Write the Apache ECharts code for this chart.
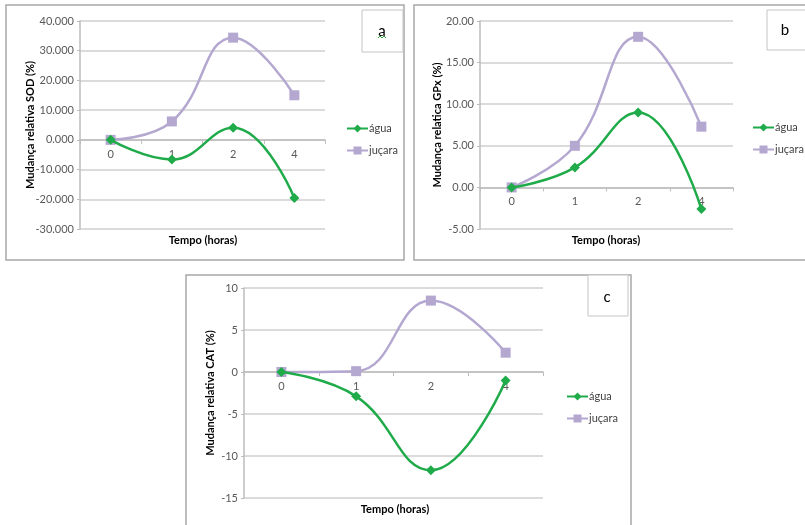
<!DOCTYPE html>
<html><head><meta charset="utf-8">
<script src="https://cdn.jsdelivr.net/npm/echarts@6/dist/echarts.min.js"></script>
<style>html,body{margin:0;padding:0;background:#fff}#c{width:805px;height:525px}</style>
</head><body><div id="c"></div>
<script>
const categories = ['0', '1', '2', '4'];
const sodAgua = [0, -6.6, 4.1, -19.6];
const sodJucara = [0, 6.2, 34.4, 15.0];
const gpxAgua = [0, 2.4, 9.0, -2.6];
const gpxJucara = [0, 5.0, 18.1, 7.3];
const catAgua = [0, -2.9, -11.7, -1.0];
const catJucara = [0, 0.1, 8.5, 2.3];
const seriesNames = ['água', 'juçara'];
const yTitles = ['Mudança relativa SOD (%)', 'Mudança relatica GPx (%)', 'Mudança relativa CAT (%)'];
const xTitle = 'Tempo (horas)';
const panelLetters = ['a', 'b', 'c'];

const FONT = 'Lato, "Open Sans", sans-serif';
const GREEN = '#1fab4a';
const PURPLE = '#b4a7d0';
const GRIDC = '#cfcfcf';

const grids = [
  {left: 80, top: 21, width: 245, height: 208},
  {left: 480, top: 21, width: 253, height: 208},
  {left: 244, top: 288, width: 299, height: 210}
];
const yCfg = [
  {min: -30, max: 40, interval: 10, fmt: v => v.toFixed(3)},
  {min: -5, max: 20, interval: 5, fmt: v => v.toFixed(2)},
  {min: -15, max: 10, interval: 5, fmt: v => String(v)}
];
const dataSets = [[sodAgua, sodJucara], [gpxAgua, gpxJucara], [catAgua, catJucara]];

// place the category axis on the zero line of the value axis
const xAxes = grids.map((g, i) => ({
  type: 'category', gridIndex: i, data: categories, boundaryGap: true, position: 'bottom',
  offset: -g.height * (0 - yCfg[i].min) / (yCfg[i].max - yCfg[i].min),
  axisLine: {onZero: false, lineStyle: {color: '#bdbdbd', width: 1.5}},
  axisTick: {show: true, length: 4, lineStyle: {color: '#bdbdbd'}},
  axisLabel: {color: '#595959', fontSize: 11, fontFamily: FONT, margin: 9},
  splitLine: {show: false}
}));
const yAxes = yCfg.map((c, i) => ({
  type: 'value', gridIndex: i, min: c.min, max: c.max, interval: c.interval,
  axisLine: {show: true, onZero: false, lineStyle: {color: '#bdbdbd', width: 1.5}},
  axisTick: {show: true, length: 3, lineStyle: {color: '#bdbdbd'}},
  axisLabel: {color: '#595959', fontSize: 11, fontFamily: FONT, margin: 6, formatter: c.fmt},
  splitLine: {show: true, lineStyle: {color: GRIDC, width: 1.5}}
}));

const series = [];
dataSets.forEach((ds, i) => {
  series.push({
    name: seriesNames[0], type: 'line', xAxisIndex: i, yAxisIndex: i, data: ds[0],
    smooth: 0.45, symbol: 'diamond', symbolSize: 10,
    lineStyle: {color: GREEN, width: 2.5}, itemStyle: {color: GREEN}, z: 3
  });
  series.push({
    name: seriesNames[1], type: 'line', xAxisIndex: i, yAxisIndex: i, data: ds[1],
    smooth: 0.45, symbol: 'rect', symbolSize: 10,
    lineStyle: {color: PURPLE, width: 2.5}, itemStyle: {color: PURPLE}, z: 2
  });
});

const legendPos = [{left: 341, top: 118}, {left: 747, top: 117}, {left: 561, top: 386}];
const legends = legendPos.map(p => ({
  left: p.left, top: p.top, orient: 'vertical', itemWidth: 21, itemHeight: 10, itemGap: 11,
  data: seriesNames, selectedMode: false,
  textStyle: {color: '#404040', fontSize: 11, fontFamily: FONT, padding: [0, 0, 0, -4]}
}));

const panels = [
  {x: 6, y: 5, w: 398, h: 255},
  {x: 414, y: 5, w: 400, h: 255},
  {x: 186, y: 275, w: 445, h: 260}
];
const boxes = [
  {x: 362, y: 10, w: 41, h: 42, tx: 382, ty: 31},
  {x: 767, y: 10, w: 45, h: 40, tx: 785, ty: 30},
  {x: 588, y: 275, w: 40, h: 41, tx: 607, ty: 297}
];
const yTitlePos = [{x: 30, y: 125}, {x: 437, y: 125}, {x: 210, y: 393}];
const xTitlePos = [{x: 203, y: 240}, {x: 606, y: 240}, {x: 395, y: 509}];

const graphic = [];
panels.forEach(p => graphic.push({
  type: 'rect', shape: {x: p.x, y: p.y, width: p.w, height: p.h}, z: -10,
  style: {fill: '#fff', stroke: '#a8a8a8', lineWidth: 1.5}
}));
boxes.forEach((b, i) => {
  graphic.push({type: 'rect', shape: {x: b.x, y: b.y, width: b.w, height: b.h}, z: 5,
    style: {fill: '#fff', stroke: '#c4c4c4', lineWidth: 1}});
  graphic.push({type: 'text', x: b.tx, y: b.ty, z: 6,
    style: {text: panelLetters[i], fontSize: 15, fontFamily: FONT, fill: '#000', textAlign: 'center', textVerticalAlign: 'middle'}});
});
graphic.push({type: 'polyline', z: 6, shape: {points: [[378,38],[380,36],[382,38],[384,36],[386,38]]},
  style: {stroke: '#3aa64a', lineWidth: 1, fill: null}});
yTitlePos.forEach((p, i) => graphic.push({
  type: 'text', x: p.x, y: p.y, rotation: Math.PI / 2, z: 6,
  style: {text: yTitles[i], fontSize: 11, fontWeight: 'bold', fontFamily: FONT, fill: '#000', textAlign: 'center', textVerticalAlign: 'middle'}
}));
xTitlePos.forEach(p => graphic.push({
  type: 'text', x: p.x, y: p.y, z: 6,
  style: {text: xTitle, fontSize: 11, fontWeight: 'bold', fontFamily: FONT, fill: '#000', textAlign: 'center', textVerticalAlign: 'middle'}
}));

const chart = echarts.init(document.getElementById('c'), null, {renderer: 'canvas'});
chart.setOption({
  animation: false,
  backgroundColor: '#fff',
  grid: grids,
  xAxis: xAxes,
  yAxis: yAxes,
  legend: legends,
  series: series,
  graphic: graphic
});
</script></body></html>
